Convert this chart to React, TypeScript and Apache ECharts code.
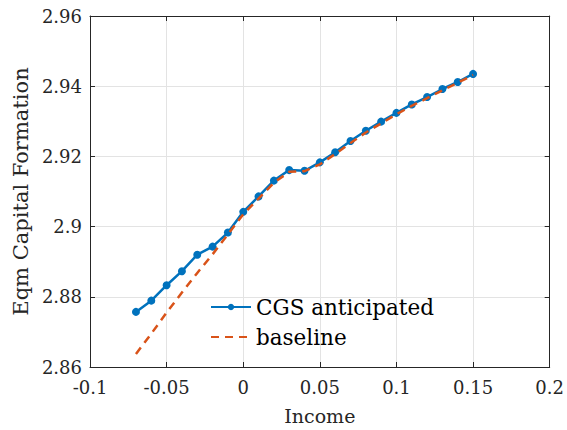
import React, { useEffect, useRef } from "react";
import * as echarts from "echarts";

const incomes = [-0.07, -0.06, -0.05, -0.04, -0.03, -0.02, -0.01, 0, 0.01, 0.02, 0.03, 0.04, 0.05, 0.06, 0.07, 0.08, 0.09, 0.1, 0.11, 0.12, 0.13, 0.14, 0.15];
const cgsAnticipated = [2.8757, 2.8789, 2.8833, 2.8873, 2.892, 2.8943, 2.8983, 2.9042, 2.9086, 2.9131, 2.9161, 2.9159, 2.9183, 2.9212, 2.9244, 2.9273, 2.9299, 2.9324, 2.9348, 2.9369, 2.9392, 2.9412, 2.9435];
const baseline = [2.8637, 2.8695, 2.8755, 2.8812, 2.8868, 2.8921, 2.8978, 2.9035, 2.908, 2.9125, 2.9156, 2.9158, 2.9177, 2.9207, 2.9238, 2.9268, 2.9294, 2.932, 2.9344, 2.9366, 2.9388, 2.941, 2.9432];

const xTickRange = { min: -0.1, max: 0.2, interval: 0.05 };
const yTickRange = { min: 2.86, max: 2.96, interval: 0.02 };

const FONT = "DejaVu Serif";
const AXIS_COLOR = "#262626";

const fmt = (v: number) => String(+v.toFixed(2));

export default function App() {
  const ref = useRef<HTMLDivElement>(null);
  useEffect(() => {
    document.body.style.margin = "0";
    if (!ref.current) return;
    const chart = echarts.init(ref.current, undefined, { renderer: "svg" });
    const axisCommon = {
      axisLine: { show: true, onZero: false, lineStyle: { color: AXIS_COLOR, width: 1 } },
      axisTick: { show: true, inside: true, length: 5, lineStyle: { color: AXIS_COLOR } },
    };
    chart.setOption({
      animation: false,
      backgroundColor: "#ffffff",
      textStyle: { fontFamily: FONT },
      grid: { left: 90, right: 15, top: 16, bottom: 62, containLabel: false },
      legend: {
        orient: "vertical",
        left: 205,
        top: 291,
        itemWidth: 40,
        itemHeight: 8,
        itemGap: 8,
        textStyle: { fontFamily: FONT, fontSize: 21.5, color: "#000" },
        data: [
          { name: "CGS anticipated" },
          { name: "baseline", itemStyle: { opacity: 0 } },
        ],
      },
      xAxis: [
        {
          type: "value",
          ...xTickRange,
          position: "bottom",
          ...axisCommon,
          splitLine: { show: true, lineStyle: { color: "#e3e3e3", width: 1 } },
          axisLabel: { formatter: fmt, fontFamily: FONT, fontSize: 18, color: AXIS_COLOR, margin: 11 },
          name: "Income",
          nameLocation: "middle",
          nameGap: 39,
          nameTextStyle: { fontFamily: FONT, fontSize: 19, color: AXIS_COLOR },
        },
        {
          type: "value",
          ...xTickRange,
          position: "top",
          ...axisCommon,
          splitLine: { show: false },
          axisLabel: { show: false },
        },
      ],
      yAxis: [
        {
          type: "value",
          ...yTickRange,
          position: "left",
          ...axisCommon,
          splitLine: { show: true, lineStyle: { color: "#e3e3e3", width: 1 } },
          axisLabel: { formatter: fmt, fontFamily: FONT, fontSize: 18, color: AXIS_COLOR, margin: 8 },
          name: "Eqm Capital Formation",
          nameLocation: "middle",
          nameGap: 57,
          nameTextStyle: { fontFamily: FONT, fontSize: 21, color: AXIS_COLOR },
        },
        {
          type: "value",
          ...yTickRange,
          position: "right",
          ...axisCommon,
          splitLine: { show: false },
          axisLabel: { show: false },
        },
      ],
      series: [
        {
          name: "CGS anticipated",
          type: "line",
          data: incomes.map((x, i) => [x, cgsAnticipated[i]]),
          symbol: "circle",
          symbolSize: 8,
          showSymbol: true,
          itemStyle: { color: "#0072BD" },
          lineStyle: { color: "#0072BD", width: 2.5 },
          z: 3,
        },
        {
          name: "baseline",
          type: "line",
          data: incomes.map((x, i) => [x, baseline[i]]),
          symbol: "none",
          itemStyle: { color: "#D95319" },
          lineStyle: { color: "#D95319", width: 2.5, type: [8, 6] },
          z: 4,
        },
      ],
    });
    return () => chart.dispose();
  }, []);
  return <div ref={ref} style={{ width: 567, height: 430 }} />;
}
